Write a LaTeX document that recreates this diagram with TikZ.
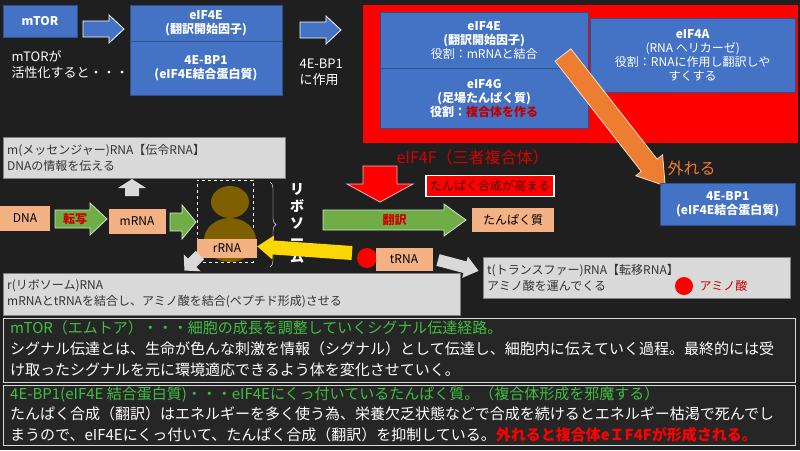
\documentclass[tikz,border=0pt]{standalone}
\usepackage{fontspec}
\setmainfont{Noto Sans CJK JP}
\usetikzlibrary{decorations.pathreplacing}
\definecolor{bblue}{HTML}{4472C4}
\definecolor{salm}{HTML}{F4B183}
\definecolor{gr}{HTML}{70AD47}
\definecolor{lg}{HTML}{D9D9D9}
\definecolor{org}{HTML}{ED7D31}
\definecolor{brn}{HTML}{7F6000}
% \barr{name}{x}{y}{angle}{length}{shaft half}{head half}{head length}{style}
\newcommand{\barr}[9]{%
  \begin{scope}[shift={(#2,#3)},rotate=#4]
    \path[#9] (0,-#6) -- ({#5-#8},-#6) -- ({#5-#8},-#7) -- (#5,0) -- ({#5-#8},#7) -- ({#5-#8},#6) -- (0,#6) -- cycle;
    \coordinate (#1) at ({#5/2},0);
  \end{scope}}
\begin{document}
\begin{tikzpicture}[x=1pt,y=-1pt,
  bx/.style={fill=bblue,draw=bblue!70!black,text=white,font=\fontsize{12}{14}\selectfont\bfseries,align=center,inner sep=0pt},
  sbox/.style={fill=salm,text=black,font=\fontsize{12}{13}\selectfont,inner sep=0pt},
  ibox/.style={fill=lg,draw=gray,text=black!80,font=\fontsize{12}{16}\selectfont,align=left,inner sep=4pt,anchor=north west},
  dbox/.style={draw=lg,line width=0.8pt,fill=black!85,anchor=north west,inner sep=0pt}]
\fill[black!88] (0,0) rectangle (800,450);
\useasboundingbox (0,0) rectangle (800,450);
% top row
\node[bx,minimum width=74,minimum height=32] (mtor) at (40,21) {mTOR};
\barr{a1}{83}{29}{0}{41}{8}{14}{15}{fill=bblue,draw=white,line width=0.8pt}
\node[bx,minimum width=152,minimum height=36] (e4e) at (206,23) {eIF4E\\(翻訳開始因子)};
\node[bx,minimum width=152,minimum height=54,anchor=north] (bp) at (e4e.south) {4E-BP1\\(eIF4E結合蛋白質)};
\node[text=white,align=left,anchor=north west,font=\fontsize{13}{16}\selectfont] (t1) at (8,47) {mTORが\\活性化すると・・・};
\barr{a2}{300}{30}{0}{41}{8}{14}{15}{fill=bblue,draw=white,line width=0.8pt}
\node[text=white,align=left,anchor=north west,font=\fontsize{13}{16}\selectfont] (t2) at (296,55) {4E-BP1\\に作用};
% complex
\node[fill=red,minimum width=435,minimum height=138,anchor=north west,inner sep=0] (cx) at (363,5) {};
\node[bx,minimum width=208,minimum height=56,anchor=north west] (c4e) at (380,12) {eIF4E\\(翻訳開始因子)\\{\mdseries 役割：mRNAと結合}};
\node[bx,minimum width=208,minimum height=60,anchor=north west] (c4g) at (380,68) {eIF4G\\(足場たんぱく質)\\役割：\textcolor{red!75!black}{複合体を作る}};
\node[bx,minimum width=205,minimum height=74,anchor=north west] (c4a) at (590,18) {eIF4A\\{\mdseries (RNA ヘリカーゼ)}\\{\mdseries 役割：RNAに作用し翻訳しや}\\{\mdseries すくする}};
\barr{oa}{563}{55}{-52}{166}{10}{17}{26}{fill=org,draw=white!75!org,line width=0.8pt}
\node[text=org,font=\fontsize{16}{17}\selectfont,anchor=west] (hz) at (664,168) {外れる};
\node[bx,minimum width=135,minimum height=42,anchor=north west] (bp2) at (660,183) {4E-BP1\\(eIF4E結合蛋白質)};
\node[text=red!85!black,font=\fontsize{16}{17}\selectfont,anchor=west] (e4f) at (393,157) {eIF4F（三者複合体）};
\barr{ra}{380}{166}{-90}{36}{17}{33}{18}{fill=red,draw=white!70!red,line width=0.8pt}
\node[fill=red,draw=white,line width=1.5pt,text=black!70!red,font=\fontsize{12}{13}\selectfont,minimum width=128,minimum height=21,inner sep=0] (tk) at (490,186) {たんぱく合成が高まる};
% translation
\barr{hy}{323}{220}{0}{143}{10}{16}{22}{fill=gr,draw=white!70!gr,line width=0.8pt}
\node[text=red!80!black,font=\fontsize{12}{13}\selectfont\bfseries] at (hy) {翻訳};
\node[sbox,minimum width=82,minimum height=24] (tp) at (513,220) {たんぱく質};
\node[ibox,text width=274,minimum height=41] (mr) at (3,137) {m(メッセンジャー)RNA【伝令RNA】\\DNAの情報を伝える};
\barr{ua}{132}{196}{90}{17}{7}{14}{9}{fill=lg}
\node[sbox,minimum width=50,minimum height=25] (dna) at (25,218) {DNA};
\barr{ts}{55}{219}{0}{52}{9}{16}{17}{fill=gr,draw=white!70!gr,line width=0.8pt}
\node[text=red!80!black,font=\fontsize{12}{13}\selectfont\bfseries] at (75,219) {転写};
\node[sbox,minimum width=57,minimum height=25] (mrna) at (137,221) {mRNA};
\barr{ga}{170}{222}{0}{26}{9}{17}{14}{fill=gr,draw=white!70!gr,line width=0.8pt}
\node[draw=white,dashed,minimum width=56,minimum height=82,anchor=north west,inner sep=0] (db) at (197,180) {};
\fill[brn] (230,202) ellipse (19 and 16);
\fill[brn] (230,240) ellipse (26 and 22);
\node[sbox,minimum width=60,minimum height=19] (rr) at (227,248) {rRNA};
\draw[white,decorate,decoration={brace,amplitude=6pt}] (270,182) -- (270,267);
\node[text=white,font=\fontsize{14}{17}\selectfont\bfseries,align=center,anchor=north] (rb) at (297,180) {リ\\ボ\\ソ\\ー\\ム};
\barr{ya}{352}{253}{176}{95}{7}{12}{16}{fill=yellow!75!orange}
\fill[red] (367,258) circle (10);
\node[sbox,minimum width=57,minimum height=23] (trna) at (404,259) {tRNA};
\barr{ga2}{438}{260}{-15}{42}{6}{11}{14}{fill=lg}
\barr{ga3}{200}{255}{225}{22}{6}{12}{11}{fill=lg}
\node[ibox,text width=449,minimum height=42] (rr2) at (3,273) {r(リボソーム)RNA\\mRNAとtRNAを結合し、アミノ酸を結合(ペプチド形成)させる};
\node[ibox,text width=299,minimum height=41] (tr2) at (483,257) {t(トランスファー)RNA【転移RNA】\\アミノ酸を運んでくる};
\fill[red] (684,286) circle (9);
\node[text=red!80!black,font=\fontsize{12}{13}\selectfont,anchor=west] (am) at (696,286) {アミノ酸};
% bottom
\node[dbox,minimum width=792,minimum height=64] (b1) at (3,318) {};
\node[dbox,minimum width=792,minimum height=60] (b2) at (3,385) {};
\node[anchor=north west,align=left,text=white,font=\fontsize{15}{21}\selectfont,inner sep=0] (bt1) at (10,320) {\textcolor{green!50!gray}{mTOR（エムトア）・・・細胞の成長を調整していくシグナル伝達経路。}\\シグナル伝達とは、生命が色んな刺激を情報（シグナル）として伝達し、細胞内に伝えていく過程。最終的には受\\け取ったシグナルを元に環境適応できるよう体を変化させていく。};
\node[anchor=north west,align=left,text=white,font=\fontsize{15}{20.5}\selectfont,inner sep=0] (bt2) at (10,386) {\textcolor{green!50!gray}{4E-BP1(eIF4E 結合蛋白質)・・・eIF4Eにくっ付いているたんぱく質。（複合体形成を邪魔する）}\\たんぱく合成（翻訳）はエネルギーを多く使う為、栄養欠乏状態などで合成を続けるとエネルギー枯渇で死んでし\\まうので、eIF4Eにくっ付いて、たんぱく合成（翻訳）を抑制している。\textcolor{red}{\bfseries 外れると複合体eＩF4Fが形成される。}};
\end{tikzpicture}
\end{document}
